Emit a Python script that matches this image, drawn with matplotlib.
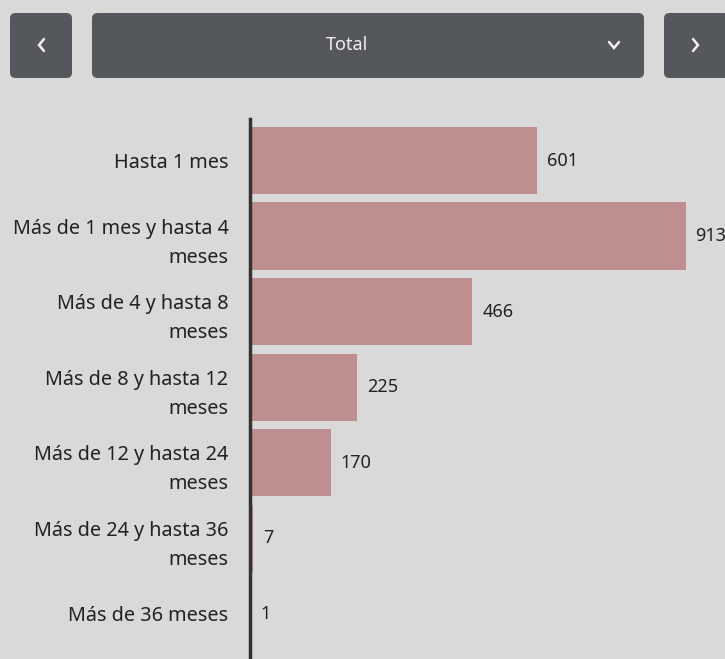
import matplotlib
matplotlib.use("Agg")
import matplotlib.pyplot as plt
from matplotlib.patches import FancyBboxPatch
from matplotlib.lines import Line2D

categories = ["Hasta 1 mes", "Más de 1 mes y hasta 4\nmeses", "Más de 4 y hasta 8\nmeses",
              "Más de 8 y hasta 12\nmeses", "Más de 12 y hasta 24\nmeses",
              "Más de 24 y hasta 36\nmeses", "Más de 36 meses"]
values = [601, 913, 466, 225, 170, 7, 1]
selector_label = "Total"

W, H = 725, 659
BG = "#d9d9d9"
BAR = "#bf8f8f"
BTN = "#54585c"
FONT = ["Noto Sans", "DejaVu Sans"]

fig = plt.figure(figsize=(W / 100, H / 100), dpi=100)
fig.patch.set_facecolor(BG)

def fx(x):
    return x / W

def fy(y):
    return 1 - y / H

# axes: x from 250 to 725 px, y from 119 to 659 px
ax = fig.add_axes([fx(250), fy(659), fx(725) - fx(250), fy(119) - fy(659)])
ax.set_facecolor(BG)
ypos = list(range(len(categories)))
ax.barh(ypos, values, height=0.89, color=BAR, zorder=2)
ax.set_xlim(0, 995)
ax.set_ylim(6.6, -0.55)
ax.set_yticks(ypos)
ax.set_yticklabels(categories, fontsize=14.3, family=FONT, color="#222222", linespacing=1.6)
ax.tick_params(axis="y", length=0, pad=15.5)
ax.set_xticks([])
for s in ["top", "right", "bottom"]:
    ax.spines[s].set_visible(False)
ax.spines["left"].set_color("#333333")
ax.spines["left"].set_linewidth(2.5)
ax.spines["left"].set_zorder(3)
for y, v in zip(ypos, values):
    ax.annotate(str(v), (v, y), xytext=(7, 0), textcoords="offset points",
                va="center", ha="left", fontsize=13, family=FONT, color="#222222",
                annotation_clip=False)

# top controls
def button(x0, y0, x1, y1):
    p = FancyBboxPatch((fx(x0), fy(y1)), fx(x1 - x0), (y1 - y0) / H,
                       boxstyle="round,pad=0,rounding_size=0.008", transform=fig.transFigure,
                       facecolor=BTN, edgecolor="none")
    fig.add_artist(p)

button(10, 13, 72, 78)
button(92, 13, 644, 78)
button(664, 13, 730, 78)

def chevron(pts):
    xs = [fx(p[0]) for p in pts]
    ys = [fy(p[1]) for p in pts]
    fig.add_artist(Line2D(xs, ys, transform=fig.transFigure, color="#f0f0f0", lw=1.8,
                          solid_capstyle="round", solid_joinstyle="miter"))

chevron([(44, 39), (39, 45), (44, 51)])
chevron([(609, 42), (614, 48), (619, 42)])
chevron([(693, 39), (698, 45), (693, 51)])

fig.text(fx(347), fy(45), selector_label, ha="center", va="center", fontsize=13, family=FONT,
         color="#eeeeee")

fig.savefig("out.png", dpi=100, facecolor=BG)
